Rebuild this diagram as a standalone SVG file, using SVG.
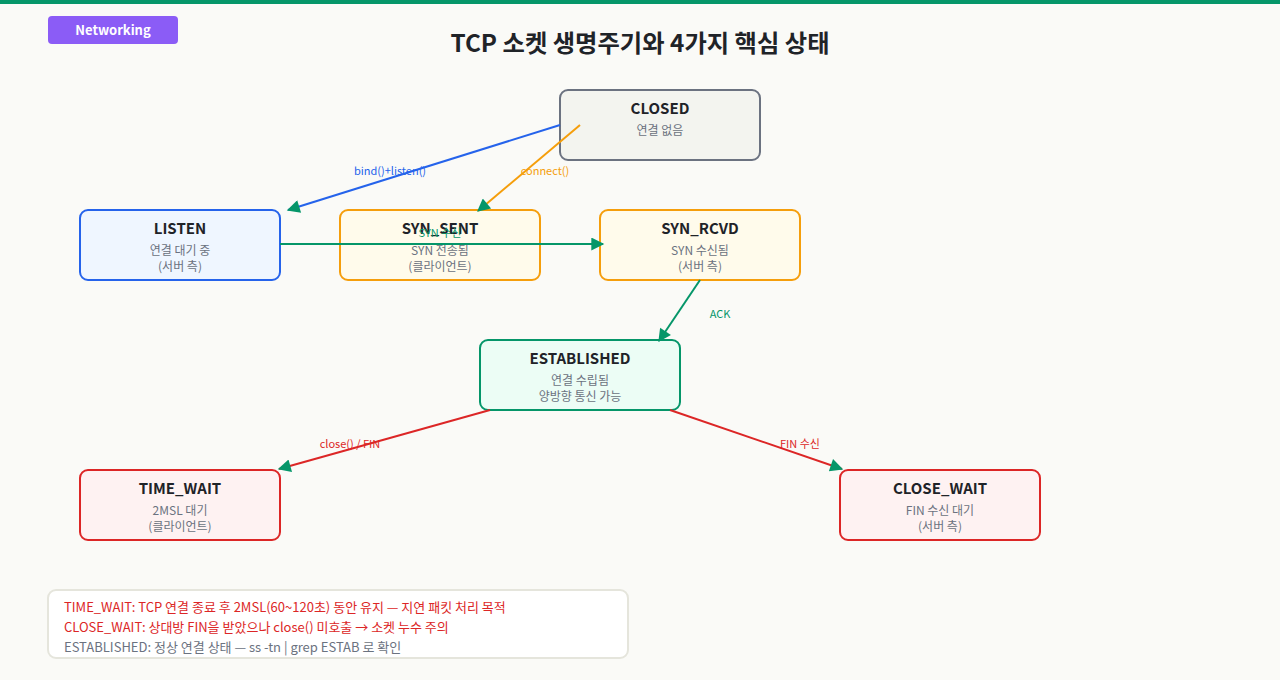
<svg xmlns="http://www.w3.org/2000/svg" width="1280" height="680" viewBox="0 0 1280 680">
<style>
text{font-family:"Noto Sans CJK KR","Noto Sans",sans-serif}
.t{font-size:15px;font-weight:700;fill:#1f2328;text-anchor:middle}
.s{font-size:12px;fill:#6b7280;text-anchor:middle}
.l{font-size:11px;text-anchor:middle}
.n{stroke-width:2}
.c{fill:none;stroke-width:2}
.g{font-size:13px}
</style>
<defs>
<marker id="ah" viewBox="0 0 10 10" refX="9" refY="5" markerWidth="18" markerHeight="13" markerUnits="userSpaceOnUse" orient="auto"><path d="M0,0 L10,5 L0,10 z" fill="#059669"/></marker>
</defs>
<rect width="1280" height="680" fill="#fafaf7"/>
<rect width="1280" height="4" fill="#059669"/>
<rect x="48" y="16" width="130" height="28" rx="4" fill="#8b5cf6"/>
<text x="113" y="35" font-size="13" font-weight="700" fill="#fff" text-anchor="middle">Networking</text>
<text x="640" y="52" font-size="24.3" font-weight="700" fill="#1f2328" text-anchor="middle">TCP 소켓 생명주기와 4가지 핵심 상태</text>
<g id="closed"><rect class="n" x="560" y="90" width="200" height="70" rx="8" fill="#f3f4ef" stroke="#6b7280"/><text class="t" x="660" y="114">CLOSED</text><text class="s" x="660" y="135">연결 없음</text></g>
<g id="listen"><rect class="n" x="80" y="210" width="200" height="70" rx="8" fill="#eff6ff" stroke="#2563eb"/><text class="t" x="180" y="234">LISTEN</text><text class="s" x="180" y="255">연결 대기 중</text><text class="s" x="180" y="271">(서버 측)</text></g>
<g id="syn_sent"><rect class="n" x="340" y="210" width="200" height="70" rx="8" fill="#fffbeb" stroke="#f59e0b"/><text class="t" x="440" y="234">SYN_SENT</text><text class="s" x="440" y="255">SYN 전송됨</text><text class="s" x="440" y="271">(클라이언트)</text></g>
<g id="syn_rcvd"><rect class="n" x="600" y="210" width="200" height="70" rx="8" fill="#fffbeb" stroke="#f59e0b"/><text class="t" x="700" y="234">SYN_RCVD</text><text class="s" x="700" y="255">SYN 수신됨</text><text class="s" x="700" y="271">(서버 측)</text></g>
<g id="established"><rect class="n" x="480" y="340" width="200" height="70" rx="8" fill="#ecfdf5" stroke="#059669"/><text class="t" x="580" y="364">ESTABLISHED</text><text class="s" x="580" y="385">연결 수립됨</text><text class="s" x="580" y="401">양방향 통신 가능</text></g>
<g id="time_wait"><rect class="n" x="80" y="470" width="200" height="70" rx="8" fill="#fef2f2" stroke="#dc2626"/><text class="t" x="180" y="494">TIME_WAIT</text><text class="s" x="180" y="515">2MSL 대기</text><text class="s" x="180" y="531">(클라이언트)</text></g>
<g id="close_wait"><rect class="n" x="840" y="470" width="200" height="70" rx="8" fill="#fef2f2" stroke="#dc2626"/><text class="t" x="940" y="494">CLOSE_WAIT</text><text class="s" x="940" y="515">FIN 수신 대기</text><text class="s" x="940" y="531">(서버 측)</text></g>
<g id="connectors">
<line class="c" x1="560" y1="125" x2="288" y2="210" stroke="#2563eb" marker-end="url(#ah)"/>
<text class="l" x="390" y="175" fill="#2563eb">bind()+listen()</text>
<line class="c" x1="580" y1="125" x2="478" y2="211" stroke="#f59e0b" marker-end="url(#ah)"/>
<text class="l" x="545" y="175" fill="#f59e0b">connect()</text>
<line class="c" x1="280" y1="244" x2="603" y2="244" stroke="#059669" marker-end="url(#ah)"/>
<text class="l" x="440" y="237" fill="#059669">SYN 수신</text>
<line class="c" x1="700" y1="280" x2="659" y2="341" stroke="#059669" marker-end="url(#ah)"/>
<text class="l" x="720" y="318" fill="#059669">ACK</text>
<line class="c" x1="490" y1="410" x2="279" y2="469" stroke="#dc2626" marker-end="url(#ah)"/>
<text class="l" x="350" y="448" fill="#dc2626">close() / FIN</text>
<line class="c" x1="670" y1="410" x2="842" y2="469" stroke="#dc2626" marker-end="url(#ah)"/>
<text class="l" x="800" y="448" fill="#dc2626">FIN 수신</text>
</g>
<g id="legend"><rect x="48" y="590" width="580" height="68" rx="8" fill="#fff" stroke="#e5e5dc" stroke-width="2"/>
<text class="g" x="64" y="612" fill="#dc2626">TIME_WAIT: TCP 연결 종료 후 2MSL(60~120초) 동안 유지 — 지연 패킷 처리 목적</text>
<text class="g" x="64" y="632" fill="#dc2626">CLOSE_WAIT: 상대방 FIN을 받았으나 close() 미호출 → 소켓 누수 주의</text>
<text class="g" x="64" y="652" fill="#6b7280">ESTABLISHED: 정상 연결 상태 — ss -tn | grep ESTAB 로 확인</text></g>
</svg>
